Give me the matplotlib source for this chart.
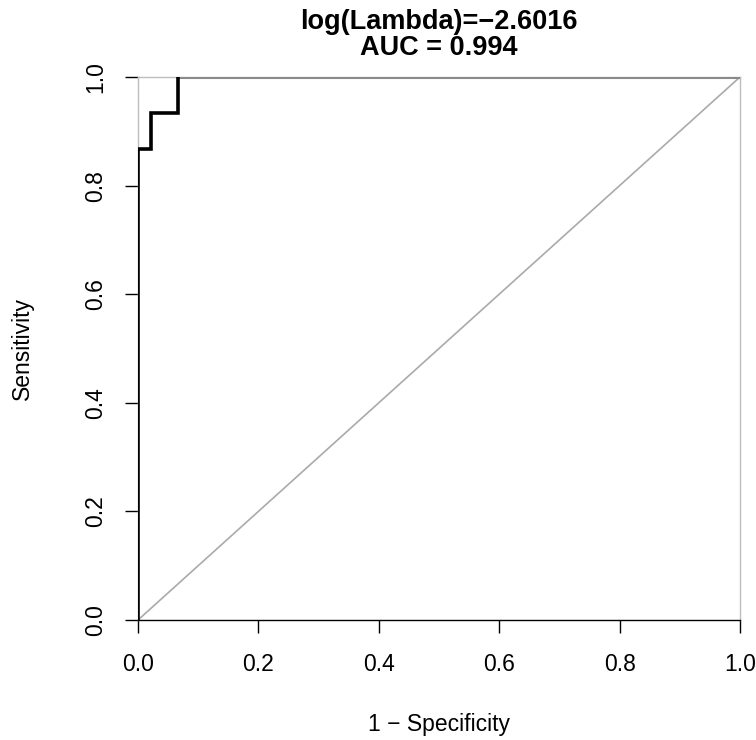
import matplotlib
matplotlib.use("Agg")
import matplotlib.pyplot as plt

# ROC curve points (1 - specificity, sensitivity)
fpr = [0.0, 0.0, 0.0222, 0.0222, 0.0667, 0.0667, 1.0]
tpr = [0.0, 0.8667, 0.8667, 0.9333, 0.9333, 1.0, 1.0]
ticks = [0.0, 0.2, 0.4, 0.6, 0.8, 1.0]
tick_labels = ["0.0", "0.2", "0.4", "0.6", "0.8", "1.0"]
title_lines = ["log(Lambda)=\u22122.6016", "AUC = 0.994"]

plt.rcParams['font.family'] = ['Liberation Sans', 'DejaVu Sans']

W, H = 756, 740
fig = plt.figure(figsize=(W / 100, H / 100), dpi=100)
ax = fig.add_axes([138 / W, 120 / H, 602 / W, 543 / H])

# light frame, black bottom axis
for side in ["top", "right", "left"]:
    ax.spines[side].set_color("#bdbdbd")
    ax.spines[side].set_linewidth(1.0)
ax.spines["bottom"].set_color("black")
ax.spines["bottom"].set_linewidth(1.0)

ax.plot([0, 1], [0, 1], color="#aaaaaa", lw=1.2, zorder=2)

# black part of the curve, then the flat top part in grey
ax.plot(fpr[:6], tpr[:6], color="black", lw=2.6, zorder=4, solid_joinstyle="miter")
ax.plot(fpr[5:], tpr[5:], color="#8a8a8a", lw=2.2, zorder=3)

ax.set_xlim(0, 1)
ax.set_ylim(0, 1)
ax.set_xticks(ticks)
ax.set_xticklabels(tick_labels)
ax.set_yticks(ticks)
ax.set_yticklabels(tick_labels, rotation=90, va="center")
ax.tick_params(axis="both", length=9.5, width=1.0, color="black", labelsize=16.5)
ax.tick_params(axis="x", pad=14)
ax.tick_params(axis="y", pad=13)

ax.set_xlabel("1 \u2212 Specificity", fontsize=16.5, labelpad=27)
ax.set_ylabel("Sensitivity", fontsize=16.5, labelpad=36)

# two-line bold title, placed by baseline
fig.text(439 / W, 1 - 29 / H, title_lines[0], ha="center", va="baseline",
         fontsize=19.5, fontweight="bold")
fig.text(439 / W, 1 - 55 / H, title_lines[1], ha="center", va="baseline",
         fontsize=19.5, fontweight="bold")

fig.savefig("out.png", dpi=100)
